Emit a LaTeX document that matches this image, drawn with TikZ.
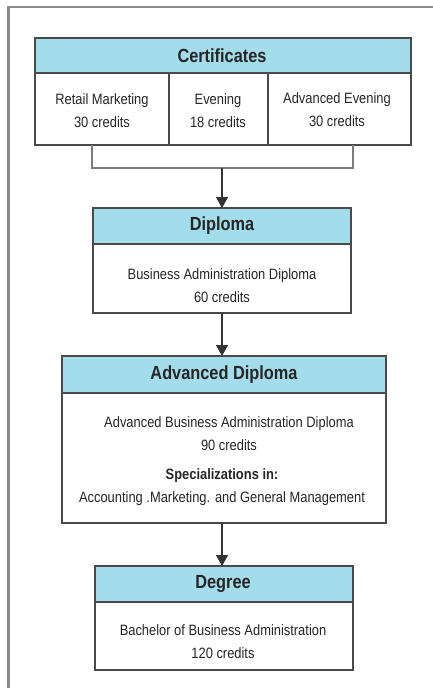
\documentclass[tikz,border=0pt]{standalone}
\usepackage{fontspec}
\setmainfont{Liberation Sans}[FakeStretch=0.86]
\usetikzlibrary{arrows.meta}
\definecolor{hdr}{HTML}{A3DCEA}
\definecolor{edge}{HTML}{4A4A4A}
\definecolor{frame}{HTML}{8A8A8A}
\tikzset{
  x=1pt,y=-1pt,
  boxline/.style={draw=edge,line width=1.6pt},
  hdrbox/.style={boxline,fill=hdr},
  hdrtext/.style={font=\fontsize{19}{22}\selectfont\bfseries,text=black!85,inner sep=0pt},
  bodytext/.style={font=\fontsize{15}{23}\selectfont,text=black!85,align=center,inner sep=0pt},
  conn/.style={draw=black!80,line width=1.3pt,-{Triangle[length=11pt,width=12pt]}},
  bracket/.style={draw=frame!90!black,line width=1.5pt}
}
\begin{document}
\begin{tikzpicture}
\useasboundingbox (0,0) rectangle (432,688);
\fill[white] (0,0) rectangle (432,688);
% frame
\draw[frame,line width=2.4pt] (8.5,690) -- (8.5,7) -- (433,7);

% Certificates
\draw[hdrbox] (35,38) rectangle (411,73);
\draw[boxline] (35,73) rectangle (411,145);
\draw[boxline] (169,73) -- (169,145);
\draw[boxline] (268,73) -- (268,145);
\node[hdrtext] (certh) at (222,55.5) {Certificates};
\node[bodytext] (c1) at (102,111) {Retail Marketing\\30 credits};
\node[bodytext] (c2) at (218,111) {Evening\\18 credits};
\node[bodytext] (c3) at (337,110) {Advanced Evening\\30 credits};
\coordinate (bl) at (92,145);
\coordinate (br) at (353,145);
\coordinate (bm) at (222,168);
\draw[bracket] (bl) -- (92,168) -- (353,168) -- (br);

% Diploma
\draw[hdrbox] (93,208) rectangle (351,244);
\draw[boxline] (93,244) rectangle (351,313);
\node[hdrtext] (diph) at (222,226) {Diploma};
\node[bodytext] (dipb) at (222,285.5) {Business Administration Diploma\\60 credits};
\coordinate (dipbot) at (222,313);
\coordinate (diptop) at (222,208);

% Advanced Diploma
\draw[hdrbox] (62,356) rectangle (386,393);
\draw[boxline] (62,393) rectangle (386,523);
\node[hdrtext] (advh) at (224,375) {Advanced Diploma};
\node[bodytext] (advb) at (229,433.5) {Advanced Business Administration Diploma\\90 credits};
\node[font=\fontsize{15}{18}\selectfont\bfseries,text=black!85,inner sep=0pt] (spec) at (222,476) {Specializations in:};
\node[bodytext] (acc) at (222,498.5) {Accounting .Marketing. and General Management};
\coordinate (advtop) at (222,356);
\coordinate (advbot) at (222,523);

% Degree
\draw[hdrbox] (95,566) rectangle (353,602);
\draw[boxline] (95,602) rectangle (353,670);
\node[hdrtext] (degh) at (223,584) {Degree};
\node[bodytext] (degb) at (223,642) {Bachelor of Business Administration\\120 credits};
\coordinate (degtop) at (222,566);

% arrows
\draw[conn] (bm) -- (diptop);
\draw[conn] (dipbot) -- (advtop);
\draw[conn] (advbot) -- (degtop);
\end{tikzpicture}
\end{document}
